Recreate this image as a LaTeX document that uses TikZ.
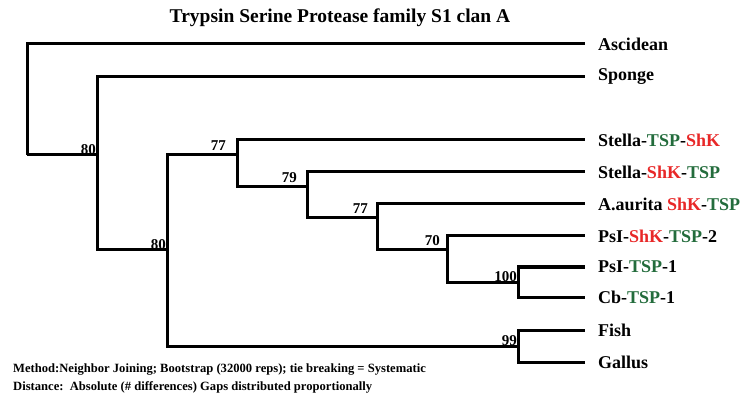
\documentclass[tikz,border=0pt]{standalone}
\usepackage{fontspec}
\setmainfont{Liberation Serif}
\usetikzlibrary{positioning}
\definecolor{tspgreen}{RGB}{35,108,60}
\definecolor{shkred}{RGB}{232,40,40}
\newcommand{\tsp}{\textcolor{tspgreen}{TSP}}
\newcommand{\shk}{\textcolor{shkred}{ShK}}

\begin{document}
\begin{tikzpicture}[
			x=1pt, y=-1pt,
			branch/.style = {line width=3pt},
			leaf/.style = {anchor=west, inner xsep=13pt, inner ysep=0pt, outer sep=0pt, font=\fontsize{18}{18}\selectfont\bfseries},
			boot/.style = {anchor=south east, inner sep=1pt, font=\fontsize{15}{15}\selectfont\bfseries},
			note/.style = {anchor=west, inner sep=0pt, font=\fontsize{12.6}{12.6}\selectfont\bfseries}
		]
		\useasboundingbox (0,0) rectangle (741,395);
		\node[font=\fontsize{19.5}{19.5}\selectfont\bfseries] (title) at (340,18) {Trypsin Serine Protease family S1 clan A};
		% Leaves.
		\node[leaf] (asc) at (585,44) {Ascidean};
		\node[leaf] (spo) at (585,77) {Sponge};
		\node[leaf] (st1) at (585,140) {Stella-\tsp-\shk};
		\node[leaf] (st2) at (585,172) {Stella-\shk-\tsp};
		\node[leaf] (aur) at (585,204) {A.aurita \shk-\tsp};
		\node[leaf] (ps2) at (585,236) {PsI-\shk-\tsp-2};
		\node[leaf] (ps1) at (585,267) {PsI-\tsp-1};
		\node[leaf] (cb1) at (585,297) {Cb-\tsp-1};
		\node[leaf] (fish) at (585,330) {Fish};
		\node[leaf] (gal) at (585,362) {Gallus};
		% Inner nodes.
		\coordinate (root) at (27,155);
		\coordinate (a) at (97,155);
		\coordinate (b) at (167,250);
		\coordinate (c) at (237,155);
		\coordinate (d) at (307,187);
		\coordinate (e) at (377,218);
		\coordinate (f) at (447,250);
		\coordinate (g) at (518,282);
		\coordinate (h) at (518,346);
		
		\draw[branch] (root) |- (asc.west);
		\draw[branch] (root) |- (a);
		\draw[branch] (a) |- (spo.west);
		\draw[branch] (a) |- (b);
		\draw[branch] (b) |- (c);
		\draw[branch] (b) |- (h);
		\draw[branch] (c) |- (st1.west);
		\draw[branch] (c) |- (d);
		\draw[branch] (d) |- (st2.west);
		\draw[branch] (d) |- (e);
		\draw[branch] (e) |- (aur.west);
		\draw[branch] (e) |- (f);
		\draw[branch] (f) |- (ps2.west);
		\draw[branch] (f) |- (g);
		\draw[branch] (g) |- (ps1.west);
		\draw[branch] (g) |- (cb1.west);
		\draw[branch] (h) |- (fish.west);
		\draw[branch] (h) |- (gal.west);
		% Bootstrap values.
		\node[boot, yshift=-1pt] (ba) at (a) {80};
		\node[boot, yshift=-1pt] (bb) at (b) {80};
		\node[boot, xshift=-10pt, yshift=3pt] (bc) at (c) {77};
		\node[boot, xshift=-9pt, yshift=3pt] (bd) at (d) {79};
		\node[boot, xshift=-8pt, yshift=3pt] (be) at (e) {77};
		\node[boot, xshift=-6pt, yshift=3pt] (bf) at (f) {70};
		\node[boot, yshift=-1pt] (bg) at (g) {100};
		\node[boot, yshift=-1pt] (bh) at (h) {99};
		% Footer.
		\node[note] (method) at (13,370) {Method:Neighbor Joining; Bootstrap (32000 reps); tie breaking = Systematic};
		\node[note] (dist) at (13,387) {Distance:\ \ Absolute (\# differences)\ Gaps distributed proportionally};
	\end{tikzpicture}
\end{document}
